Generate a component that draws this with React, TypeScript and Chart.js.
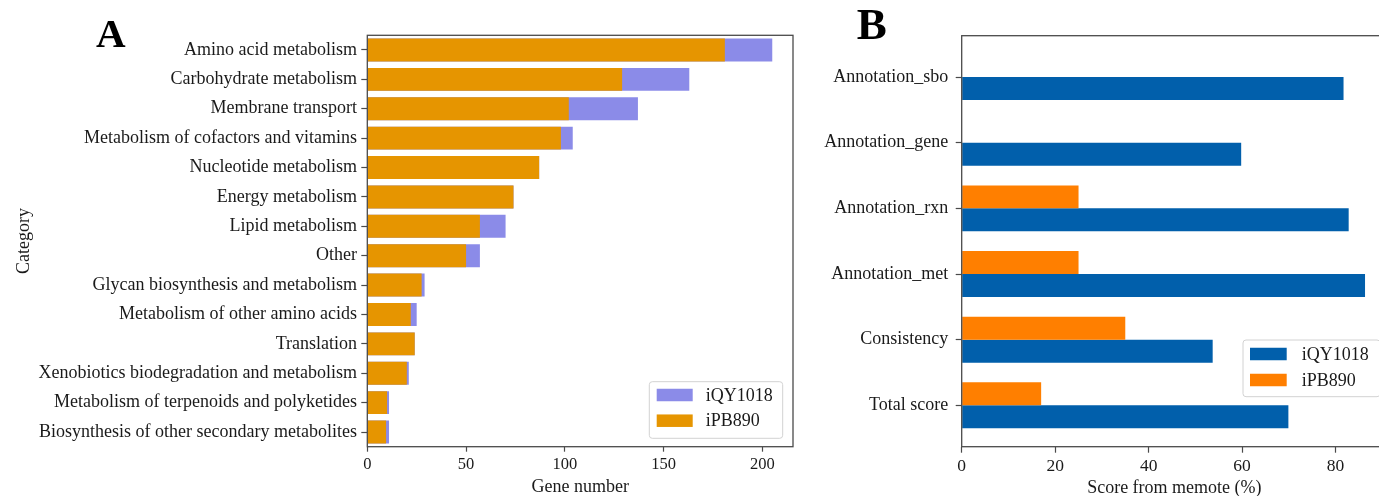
import React, { useEffect, useRef } from "react";
import { Chart, registerables } from "chart.js";

Chart.register(...registerables);

// ---------- Panel A data ----------
const geneCategories = [
  "Amino acid metabolism",
  "Carbohydrate metabolism",
  "Membrane transport",
  "Metabolism of cofactors and vitamins",
  "Nucleotide metabolism",
  "Energy metabolism",
  "Lipid metabolism",
  "Other",
  "Glycan biosynthesis and metabolism",
  "Metabolism of other amino acids",
  "Translation",
  "Xenobiotics biodegradation and metabolism",
  "Metabolism of terpenoids and polyketides",
  "Biosynthesis of other secondary metabolites",
];
const iQY1018Genes = [205, 163, 137, 104, 87, 74, 70, 57, 29, 25, 24, 21, 11, 11];
const iPB890Genes = [181, 129, 102, 98, 87, 74, 57, 50, 27.5, 22, 24, 20, 10, 9.5];
const geneTicks = [0, 50, 100, 150, 200];

// ---------- Panel B data ----------
const scoreCategories = [
  "Annotation_sbo",
  "Annotation_gene",
  "Annotation_rxn",
  "Annotation_met",
  "Consistency",
  "Total score",
];
const iQY1018Scores = [81.7, 59.8, 82.8, 86.3, 53.7, 69.9];
const iPB890Scores = [0, 0, 25, 25, 35, 17];
const scoreTicks = [0, 20, 40, 60, 80];

const SERIF = "'Liberation Serif', 'Times New Roman', serif";
const TXT = "#1a1a1a";
const AXIS = "#4a4a4a";
const PURPLE = "#8b8be8";
const ORANGE_A = "#e69500";
const BLUE_B = "#015fab";
const ORANGE_B = "#ff7f00";

const framePlugin = {
  id: "frame",
  afterDatasetsDraw(chart: any) {
    const { ctx, chartArea: a } = chart;
    ctx.save();
    ctx.strokeStyle = AXIS;
    ctx.lineWidth = 1.3;
    ctx.strokeRect(a.left, a.top, a.right - a.left, a.bottom - a.top);
    ctx.restore();
  },
};

const boxLegendPlugin = {
  id: "boxLegend",
  afterDraw(chart: any, _args: any, o: any) {
    const { ctx, chartArea: a } = chart;
    const x = a.right + o.dx;
    const y = o.top;
    ctx.save();
    ctx.beginPath();
    const r = 3;
    const w = o.w;
    const h = o.h;
    ctx.moveTo(x + r, y);
    ctx.lineTo(x + w - r, y);
    ctx.arcTo(x + w, y, x + w, y + r, r);
    ctx.lineTo(x + w, y + h - r);
    ctx.arcTo(x + w, y + h, x + w - r, y + h, r);
    ctx.lineTo(x + r, y + h);
    ctx.arcTo(x, y + h, x, y + h - r, r);
    ctx.lineTo(x, y + r);
    ctx.arcTo(x, y, x + r, y, r);
    ctx.closePath();
    ctx.fillStyle = "rgba(255,255,255,0.85)";
    ctx.fill();
    ctx.strokeStyle = "#d2d2d2";
    ctx.lineWidth = 1;
    ctx.stroke();
    ctx.font = `18px ${SERIF}`;
    ctx.textBaseline = "middle";
    ctx.textAlign = "left";
    chart.data.datasets.forEach((ds: any, i: number) => {
      const cy = y + o.rows[i];
      ctx.fillStyle = ds.backgroundColor;
      ctx.fillRect(x + o.hx, cy - o.hh / 2, o.hw, o.hh);
      ctx.fillStyle = TXT;
      ctx.fillText(ds.label, x + o.tx, cy + 1);
    });
    ctx.restore();
  },
};

const letterPlugin = {
  id: "panelLetter",
  afterDraw(chart: any, _args: any, o: any) {
    const { ctx } = chart;
    ctx.save();
    ctx.font = `bold ${o.size}px ${SERIF}`;
    ctx.fillStyle = "#000";
    ctx.textBaseline = "alphabetic";
    ctx.textAlign = "left";
    ctx.fillText(o.text, o.x, o.y);
    ctx.restore();
  },
};

const tickGrid = (len: number) => ({
  display: true,
  drawOnChartArea: false,
  drawTicks: true,
  offset: false,
  tickLength: len,
  tickColor: AXIS,
  tickWidth: 1.2,
});

export default function App() {
  const refA = useRef<HTMLCanvasElement>(null);
  const refB = useRef<HTMLCanvasElement>(null);

  useEffect(() => {
    const chartA = new Chart(refA.current as HTMLCanvasElement, {
      type: "bar",
      data: {
        labels: geneCategories,
        datasets: [
          {
            label: "iQY1018",
            data: iQY1018Genes,
            backgroundColor: PURPLE,
            order: 1,
            grouped: false,
            barPercentage: 0.78,
            categoryPercentage: 1,
            borderWidth: 0,
          } as any,
          {
            label: "iPB890",
            data: iPB890Genes,
            backgroundColor: ORANGE_A,
            order: 0,
            grouped: false,
            barPercentage: 0.78,
            categoryPercentage: 1,
            borderWidth: 0,
          } as any,
        ],
      },
      options: {
        indexAxis: "y",
        animation: false,
        responsive: false,
        layout: { padding: { left: 0, right: 7, top: 35.3, bottom: 0 } },
        scales: {
          x: {
            type: "linear",
            position: "bottom",
            min: 0,
            max: 215.5,
            afterBuildTicks: (s: any) => {
              s.ticks = geneTicks.map((v) => ({ value: v }));
            },
            afterFit: (s: any) => {
              s.height = 49.3;
            },
            ticks: { font: { family: SERIF, size: 16.5 }, color: TXT, padding: 3 },
            grid: tickGrid(5),
            border: { display: false },
            title: {
              display: true,
              text: "Gene number",
              font: { family: SERIF, size: 18, lineHeight: 1 },
              color: TXT,
              padding: 0,
            },
          },
          y: {
            type: "category",
            offset: true,
            afterFit: (s: any) => {
              s.width = 367.3;
            },
            ticks: { font: { family: SERIF, size: 18 }, color: TXT, padding: 4.3, autoSkip: false },
            grid: tickGrid(6),
            border: { display: false },
            title: {
              display: true,
              text: "Category",
              font: { family: SERIF, size: 18, lineHeight: 1.2 },
              color: TXT,
              padding: { top: 13, bottom: 0 },
            },
          },
        } as any,
        plugins: {
          legend: { display: false },
          tooltip: { enabled: false },
          boxLegend: {
            dx: -143.7,
            top: 381.7,
            w: 133.4,
            h: 56.6,
            hx: 7.4,
            hw: 36,
            hh: 12.5,
            tx: 56.4,
            rows: [13.3, 39],
          },
          panelLetter: { text: "A", x: 96, y: 46.7, size: 41 },
        } as any,
      },
      plugins: [framePlugin, boxLegendPlugin, letterPlugin],
    });

    const chartB = new Chart(refB.current as HTMLCanvasElement, {
      type: "bar",
      data: {
        datasets: [
          {
            label: "iQY1018",
            data: iQY1018Scores.map((v, i) => ({ x: v, y: i })),
            backgroundColor: BLUE_B,
            order: 1,
            barPercentage: 1,
            categoryPercentage: 0.7,
            borderWidth: 0,
          } as any,
          {
            label: "iPB890",
            data: iPB890Scores.map((v, i) => ({ x: v, y: i })),
            backgroundColor: ORANGE_B,
            order: 0,
            barPercentage: 1,
            categoryPercentage: 0.7,
            borderWidth: 0,
          } as any,
        ],
      },
      options: {
        indexAxis: "y",
        animation: false,
        responsive: false,
        layout: { padding: { left: 0, right: 33, top: 35.7, bottom: 0 } },
        scales: {
          x: {
            type: "linear",
            position: "bottom",
            min: 0,
            max: 91,
            afterBuildTicks: (s: any) => {
              s.ticks = scoreTicks.map((v) => ({ value: v }));
            },
            afterFit: (s: any) => {
              s.height = 49.3;
            },
            ticks: { font: { family: SERIF, size: 17.5 }, color: TXT, padding: 3 },
            grid: tickGrid(6),
            border: { display: false },
            title: {
              display: true,
              text: "Score from memote (%)",
              font: { family: SERIF, size: 18, lineHeight: 0.9 },
              color: TXT,
              padding: 0,
            },
          },
          y: {
            type: "linear",
            reverse: true,
            offset: false,
            min: -0.63,
            max: 5.63,
            afterBuildTicks: (s: any) => {
              s.ticks = scoreCategories.map((_, i) => ({ value: i }));
            },
            afterFit: (s: any) => {
              s.width = 161.7;
            },
            ticks: {
              font: { family: SERIF, size: 18 },
              color: TXT,
              padding: 7.4,
              autoSkip: false,
              callback: (v: any) => scoreCategories[Math.round(Number(v))],
            },
            grid: tickGrid(6),
            border: { display: false },
          },
        } as any,
        plugins: {
          legend: { display: false },
          tooltip: { enabled: false },
          boxLegend: {
            dx: -144,
            top: 340,
            w: 137,
            h: 56.7,
            hx: 7,
            hw: 36.7,
            hh: 12.5,
            tx: 58.7,
            rows: [14, 40],
          },
          panelLetter: { text: "B", x: 56.7, y: 39.3, size: 45 },
        } as any,
      },
      plugins: [framePlugin, boxLegendPlugin, letterPlugin],
    });

    return () => {
      chartA.destroy();
      chartB.destroy();
    };
  }, []);

  return (
    <div
      style={{
        position: "absolute",
        left: 0,
        top: 0,
        width: 1379,
        height: 496,
        overflow: "hidden",
        background: "#fff",
      }}
    >
      <canvas
        ref={refA}
        width={800}
        height={496}
        style={{ position: "absolute", left: 0, top: 0, display: "block" }}
      />
      <canvas
        ref={refB}
        width={620}
        height={496}
        style={{ position: "absolute", left: 800, top: 0, display: "block" }}
      />
    </div>
  );
}
